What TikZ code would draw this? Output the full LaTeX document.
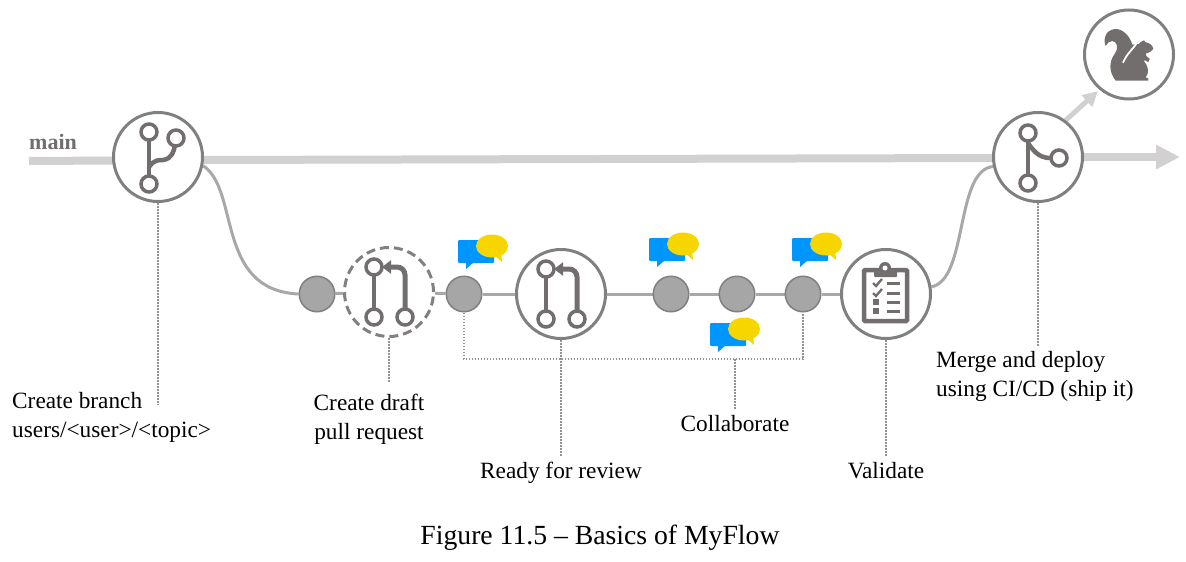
\documentclass[tikz,border=0pt]{standalone}
\usepackage{fontspec}
\setmainfont{Liberation Serif}
\usepackage{tikz}
\usetikzlibrary{positioning,arrows.meta,shapes}
\definecolor{icongray}{HTML}{736E6E}
\definecolor{ringgray}{HTML}{808080}
\definecolor{mainline}{HTML}{D2D0D0}
\definecolor{flowline}{HTML}{A8A8A8}
\definecolor{dotgray}{HTML}{A6A6A6}
\definecolor{bubbleblue}{HTML}{0096FF}
\definecolor{bubbleyellow}{HTML}{F7D600}
\pgfdeclarelayer{background}
\pgfsetlayers{background,main}
\tikzset{
  ring/.style={draw=ringgray,fill=white,circle,line width=3pt,minimum size=89pt,inner sep=0pt},
  dashring/.style={ring,dashed,dash pattern=on 9pt off 5pt},
  flowdot/.style={draw=ringgray,fill=dotgray,circle,line width=1.5pt,minimum size=35.5pt,inner sep=0pt},
  steplabel/.style={inner sep=0pt,font=\fontsize{23.3}{29}\selectfont},
  captionlabel/.style={inner sep=0pt,font=\fontsize{27.7}{32}\selectfont},
  mainlabel/.style={inner sep=0pt,text=icongray,font=\fontsize{22}{26}\selectfont\bfseries},
  mainflow/.style={draw=mainline,line width=8pt},
  flow/.style={draw=flowline,line width=3pt},
  leader/.style={draw=ringgray!85,line width=1.1pt,dash pattern=on 1.5pt off 1.5pt},
  iconline/.style={draw=icongray,line width=4.5pt},
  iconknob/.style={draw=icongray,fill=white,line width=3.5pt},
  pics/forkicon/.style={code={
    \draw[iconline] (-9,-20) -- (-9,20);
    \draw[iconline] (-9,10) .. controls (-4,3) and (0,3) .. (5,3) .. controls (14,2) and (16,-6) .. (17,-12);
    \draw[iconknob] (-9,-25) circle (8pt);
    \draw[iconknob] (18,-19) circle (8pt);
    \draw[iconknob] (-9,27) circle (8pt);
  }},
  pics/mergeicon/.style={code={
    \draw[iconline] (-10,-20) -- (-10,20);
    \draw[iconline] (-10,-14) .. controls (-2,-2) and (4,1) .. (13,1);
    \draw[iconknob] (-10,-24) circle (8pt);
    \draw[iconknob] (-10,26) circle (8pt);
    \draw[iconknob] (21,1) circle (8pt);
  }},
  pics/pullicon/.style={code={
    \draw[iconline] (-15,-20) -- (-15,20);
    \draw[iconline,line width=5pt,rounded corners=8pt,-{Triangle[width=13pt,length=9pt]}] (16,18) -- (16,-25) -- (-7,-25);
    \draw[iconknob] (-15,-25) circle (8pt);
    \draw[iconknob] (-15,25) circle (8pt);
    \draw[iconknob] (16,25) circle (8pt);
  }},
  pics/boardicon/.style={code={
    \draw[draw=icongray,fill=white,line width=4.5pt,rounded corners=1pt] (-22,-24) rectangle (21,27);
    \fill[icongray,rounded corners=1pt] (-12,-25) rectangle (11,-17);
    \fill[icongray] (-1,-26) circle (6pt);
    \fill[white] (-1,-26) circle (2.5pt);
    \draw[icongray,line width=2.4pt] (-13,-11) -- (-10,-8) -- (-4,-15);
    \draw[icongray,line width=2.4pt] (-13,-1) -- (-10,2) -- (-4,-5);
    \fill[icongray] (-13.5,5) rectangle (-7.5,11);
    \fill[icongray] (-13.5,14) rectangle (-7.5,20);
    \foreach \rowy in {-11,-1,8,17}{
      \draw[icongray,line width=3pt] (1,\rowy) -- (14,\rowy);
    }
  }},
  pics/squirrelicon/.style={code={
    \begin{scope}[shift={(-34,-34.5)},x=0.3333pt,y=-0.3333pt]
      \fill[icongray] (62,182) .. controls (45,160) and (38,130) .. (60,100)
        .. controls (72,82) and (66,65) .. (52,63) .. controls (42,63) and (36,70) .. (32,78)
        .. controls (24,60) and (30,30) .. (60,27) .. controls (85,26) and (105,50) .. (112,74)
        -- (132,72) -- (137,66) -- (147,61) -- (152,67)
        .. controls (164,68) and (174,78) .. (175,87) .. controls (170,96) and (160,98) .. (152,101)
        .. controls (151,106) and (155,110) .. (164,116) -- (160,127) .. controls (156,122) and (150,120) .. (146,122)
        .. controls (160,138) and (164,158) .. (152,172) -- (160,176) -- (160,182) -- cycle;
      \draw[white,line width=1.8pt] (126,68) .. controls (112,90) and (96,100) .. (84,128);
    \end{scope}
  }},
  pics/chatbubbles/.style={code={
    \fill[bubbleblue,rounded corners=1pt] (0,0) rectangle (36,23);
    \fill[bubbleblue] (8,22) -- (8,29) -- (16,22) -- cycle;
    \fill[bubbleyellow] (36,15) -- (44,22) -- (43,12) -- cycle;
    \fill[bubbleyellow] (34,6) ellipse (16pt and 11.5pt);
  }}
}

\begin{document}
\begin{tikzpicture}[x=1pt,y=-1pt]
  \useasboundingbox (0,0) rectangle (1186,562);

  \coordinate (main-start) at (29,161);
  \coordinate (main-end) at (1180,157);

  \node[ring] (branch) at (158,157){};
  \node[ring, right=788pt of branch] (merge){};
  \node[ring, above=10.5pt of merge, xshift=91pt] (ship){};

  \node[flowdot] (commit-a) at (317,294){};
  \node[dashring, right=7.5pt of commit-a, yshift=2pt] (draft){};
  \node[flowdot, right=10.5pt of draft, yshift=-2pt] (commit-b){};
  \node[ring, right=32.5pt of commit-b] (review){};
  \node[flowdot, right=45.5pt of review] (commit-c){};
  \node[flowdot, right=29pt of commit-c] (commit-d){};
  \node[flowdot, right=29pt of commit-d] (commit-e){};
  \node[ring, right=18.5pt of commit-e] (validate){};

  % labels
  \node[mainlabel, above=11pt of main-start, anchor=south west] (main-label){main};
  \node[steplabel, align=left, below=189pt of branch.south, anchor=north west, xshift=-146pt] (branch-label){Create branch\\users/<user>/<topic>};
  \node[steplabel, align=center, below=56pt of draft, xshift=-20pt] (draft-label){Create draft\\pull request};
  \node[steplabel, below=122pt of review] (review-label){Ready for review};
  \node[steplabel, below=102.5pt of commit-d, xshift=-2pt] (collab-label){Collaborate};
  \node[steplabel, below=122pt of validate] (validate-label){Validate};
  \node[steplabel, align=left, below=148.5pt of merge.south, anchor=north west, xshift=-102pt] (merge-label){Merge and deploy\\using CI/CD (ship it)};
  \node[captionlabel] (caption) at (600,538){Figure 11.5 – Basics of MyFlow};

  \coordinate (branch-end) at (158,405);
  \coordinate (collab-join) at (collab-label.north |- 0,359);

  % connectors go under the rings
  \begin{pgfonlayer}{background}
    \draw[mainflow] (main-start) -- ([yshift=-3pt]branch.east);
    \draw[mainflow] ([yshift=-3pt]branch.east) -- ([yshift=-1pt]merge.west);
    \draw[mainflow,-{Triangle[width=23pt,length=24pt,sep=0pt]}] (merge.east) -- (main-end);
    \draw[mainflow,line width=5pt,shorten >=2pt,-{Triangle[width=15pt,length=15pt]}] (merge.53) -- (ship.230);
    \draw[flow] (branch.-11) .. controls (240,190) and (215,290) .. (commit-a.west);
    \draw[flow] (validate.9) .. controls (968,280) and (955,170) .. (merge.192);
    \foreach \from/\to in {commit-a/draft,draft/commit-b,commit-b/review,review/commit-c,commit-c/commit-d,commit-d/commit-e,commit-e/validate}{
      \draw[flow] (\from) -- (\to);
    }
  \end{pgfonlayer}
  \draw[leader] (branch.south) -- (branch-end);
  \draw[leader,shorten >=12pt] (draft.south) -- (draft.south |- draft-label.north);
  \draw[leader,shorten >=6pt] (review.south) -- (review-label.north);
  \draw[leader,shorten >=6pt] (validate.south) -- (validate-label.north);
  \draw[leader,shorten >=6pt] (merge.south) -- (merge.south |- merge-label.north);
  \draw[leader] (commit-b.south) |- (collab-join) -| (commit-e.south);
  \draw[leader,shorten >=6pt] (collab-join) -- (collab-label.north);

  % icons
  \pic at (branch) {forkicon};
  \pic at (merge) {mergeicon};
  \pic at (draft) {pullicon};
  \pic at (review) {pullicon};
  \pic at (validate) {boardicon};
  \pic at (ship) {squirrelicon};
  \pic at ([shift={(-6,-54)}]commit-b) {chatbubbles};
  \pic at ([shift={(-22,-56)}]commit-c) {chatbubbles};
  \pic at ([shift={(-27,29)}]commit-d) {chatbubbles};
  \pic at ([shift={(-11,-56)}]commit-e) {chatbubbles};
\end{tikzpicture}
\end{document}
